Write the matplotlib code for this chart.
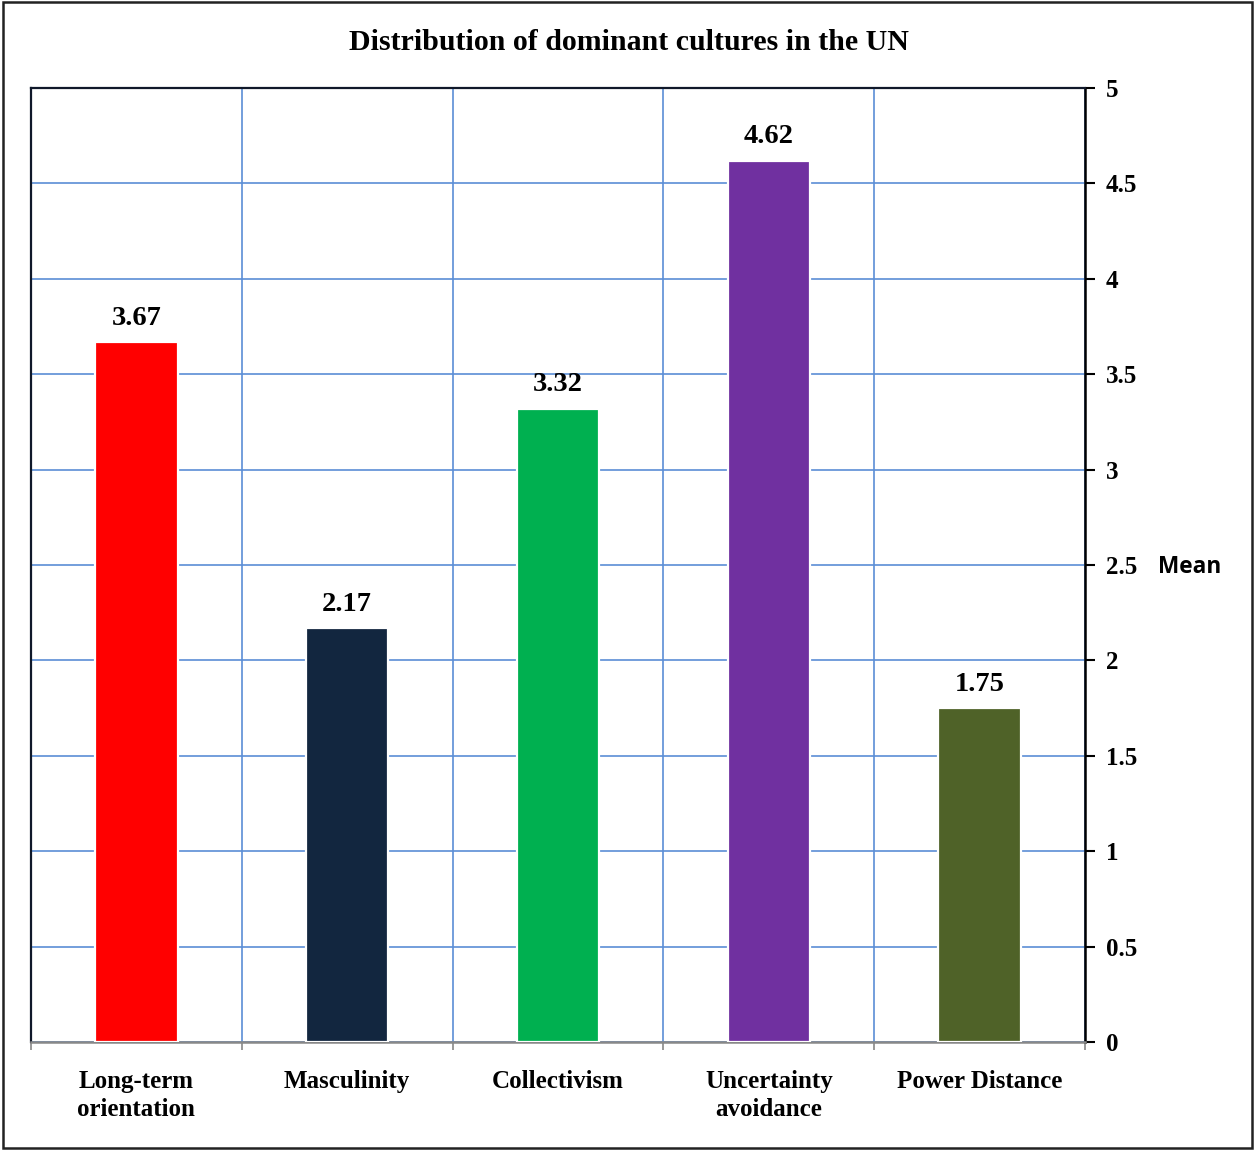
import matplotlib
matplotlib.use("Agg")
import matplotlib.pyplot as plt
from matplotlib.patches import Rectangle
from matplotlib.transforms import blended_transform_factory
import numpy as np

# values
categories = ["Long-term\norientation", "Masculinity", "Collectivism",
              "Uncertainty\navoidance", "Power Distance"]
means = [3.67, 2.17, 3.32, 4.62, 1.75]
bar_colors = ["#FF0000", "#12263F", "#00B050", "#7030A0", "#4F6228"]
y_ticks = [0, 0.5, 1, 1.5, 2, 2.5, 3, 3.5, 4, 4.5, 5]

serif = "Liberation Serif"
grid_blue = "#5B8ED6"

fig = plt.figure(figsize=(12.55, 11.5), dpi=100)
ax = fig.add_axes([31 / 1255, 1 - 1042 / 1150, 1054 / 1255, 954 / 1150])

x = np.arange(len(categories))
bars = ax.bar(x, means, width=0.39, color=bar_colors, edgecolor="white",
              linewidth=1.6, zorder=3)

for b, v in zip(bars, means):
    ax.annotate(f"{v:.2f}", (b.get_x() + b.get_width() / 2, v),
                xytext=(0, 8), textcoords="offset points", ha="center",
                va="bottom", fontsize=20.5, fontweight="bold", family=serif)

ax.set_xlim(-0.5, len(categories) - 0.5)
ax.set_ylim(0, 5)

# category labels centred, boundaries carry grid + tick marks
ax.set_xticks(x)
ax.set_xticklabels(categories, fontsize=18, fontweight="bold", family=serif,
                   linespacing=1.27)
ax.tick_params(axis="x", which="major", length=0, pad=20)
ax.set_xticks(np.arange(-0.5, len(categories)), minor=True)
ax.tick_params(axis="x", which="minor", length=6, color="#888888", width=1.2)
ax.grid(True, axis="x", which="minor", color=grid_blue, linewidth=1.2, zorder=0)

ax.yaxis.tick_right()
ax.set_yticks(y_ticks)
ax.set_yticklabels([f"{t:g}" for t in y_ticks], fontsize=18,
                   fontweight="bold", family=serif)
ax.tick_params(axis="y", length=7, width=1.5, pad=8, color="black")
ax.grid(True, axis="y", which="major", color=grid_blue, linewidth=1.2, zorder=0)
ax.set_axisbelow(True)

for side, col, lw in [("left", "#10182a", 1.6), ("top", "#10182a", 1.6),
                      ("right", "black", 1.8), ("bottom", "#888888", 1.8)]:
    ax.spines[side].set_color(col)
    ax.spines[side].set_linewidth(lw)

trans = blended_transform_factory(ax.transAxes, ax.transData)
ax.text(1.0996, 2.49, "Mean", transform=trans, ha="center", va="center",
        fontsize=16.3, fontweight="bold", family="Open Sans")

fig.text(0.5015, 1 - 42 / 1150, "Distribution of dominant cultures in the UN",
         ha="center", va="center", fontsize=21.5, fontweight="bold", family=serif)

fig.patches.append(Rectangle((3 / 1255, 2 / 1150), 1249 / 1255, 1146 / 1150,
                             transform=fig.transFigure, fill=False,
                             edgecolor="#222222", linewidth=1.8))

fig.savefig("out.png", dpi=100)
plt.close(fig)
